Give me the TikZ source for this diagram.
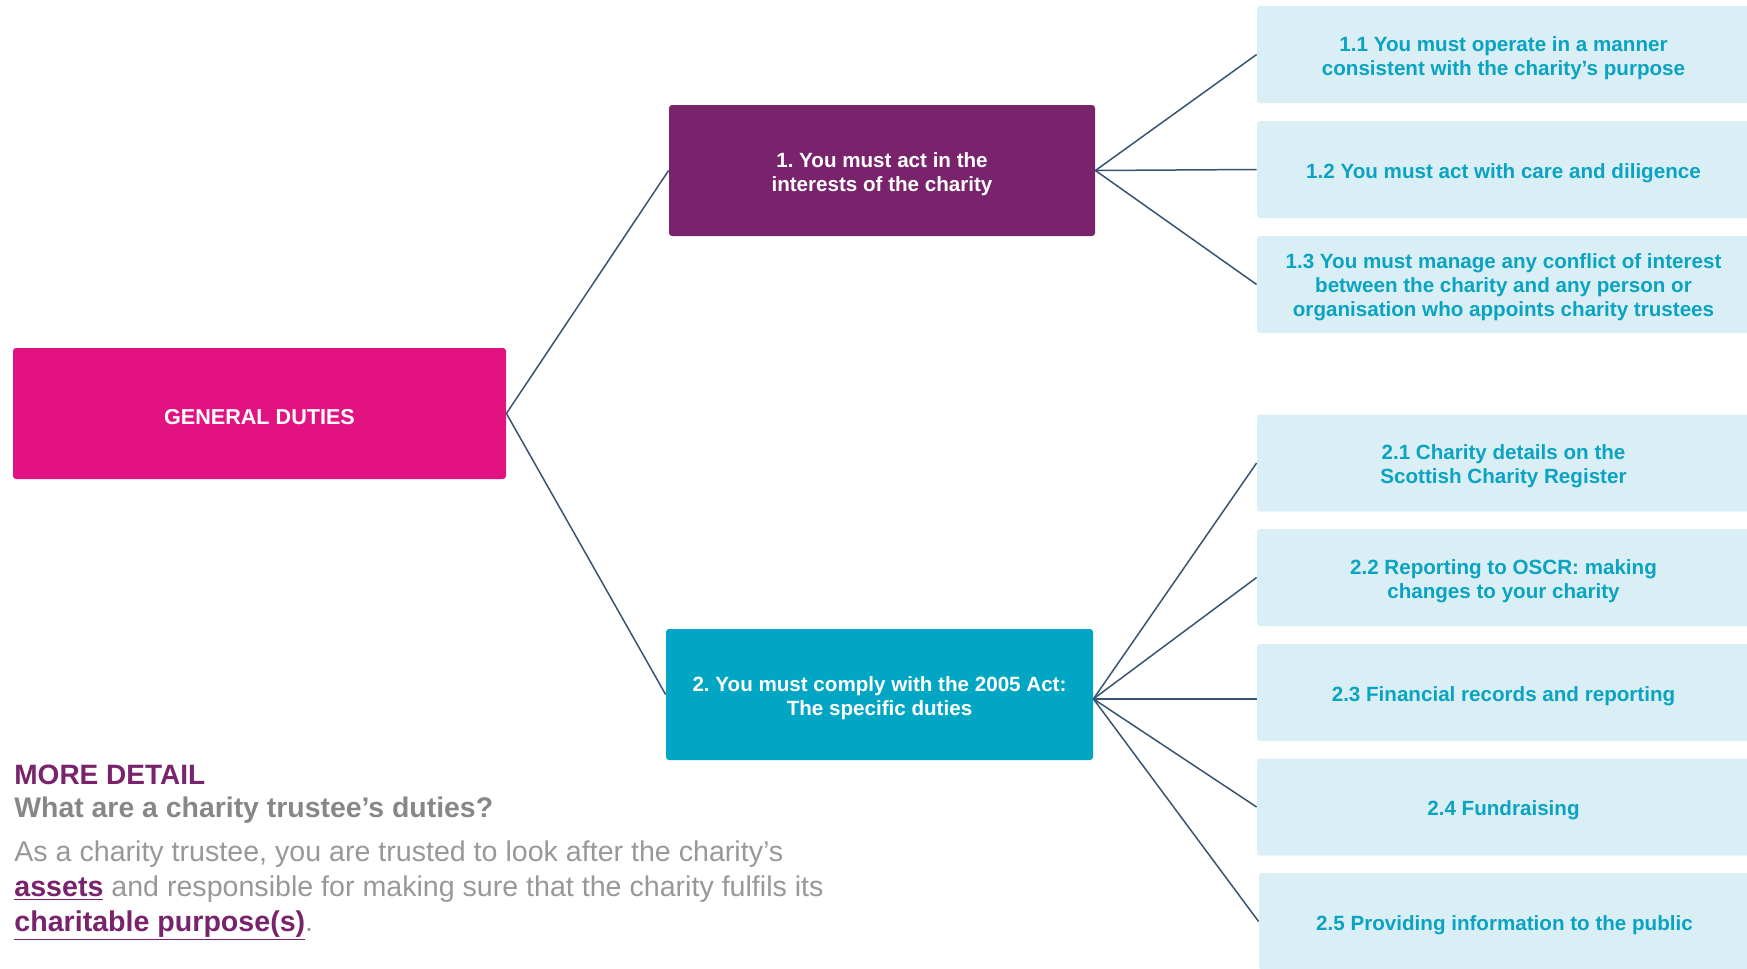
\documentclass[tikz,border=0pt]{standalone}
\usepackage{fontspec}
\setmainfont{Liberation Sans}
\usepackage{xcolor}
\usetikzlibrary{positioning}
\definecolor{pinkbox}{RGB}{226,18,128}
\definecolor{purplebox}{RGB}{120,35,107}
\definecolor{tealbox}{RGB}{0,166,196}
\definecolor{lightbox}{RGB}{218,238,245}
\definecolor{leaftext}{RGB}{10,163,194}
\definecolor{linkline}{RGB}{55,85,112}
\definecolor{headgrey}{RGB}{135,135,135}
\definecolor{bodygrey}{RGB}{152,152,152}

\tikzset{
  lowtext/.style={execute at begin node={\rule{0pt}{#1}}},
  lowtext/.default=10.9pt,
  mainbox/.style={rounded corners=1.5pt, inner sep=0pt, minimum width=213pt, minimum height=65.5pt,
    text=white, align=center, lowtext, font=\fontsize{10.3}{11.8}\selectfont\bfseries},
  leafbox/.style={fill=lightbox, rounded corners=1.5pt, inner sep=0pt, minimum width=246.5pt, minimum height=48.5pt,
    text=leaftext, align=center, lowtext, font=\fontsize{10.3}{12}\selectfont\bfseries},
  branch/.style={draw=linkline, line width=0.75pt},
}

\begin{document}
\frenchspacing
\begin{tikzpicture}[x=0.5pt, y=-0.5pt]
  \useasboundingbox (0,0) rectangle (1747,969);

  % main duties
  \node[mainbox, fill=pinkbox, minimum width=246.5pt, font=\fontsize{10.8}{12}\selectfont\bfseries] (gen) at (259.5,413.5) {GENERAL DUTIES};
  \node[mainbox, fill=purplebox, lowtext=22.8pt] (one) at (882,170.5) {1. You must act in the\\interests of the charity};
  \node[mainbox, fill=tealbox, minimum width=213.5pt, lowtext=23.2pt] (two) at (879.5,694.5) {2. You must comply with the 2005 Act:\\The specific duties};

  % duty 1
  \node[leafbox, lowtext=23.4pt] (b11) at (1503.5,54.5) {1.1 You must operate in a manner\\consistent with the charity’s purpose};
  \node[leafbox] (b12) at (1503.5,169.5) {1.2 You must act with care and diligence};
  \node[leafbox, lowtext=34.2pt] (b13) at (1503.5,284.5) {1.3 You must manage any conflict of interest\\between the charity and any person or\\organisation who appoints charity trustees};

  % duty 2
  \node[leafbox, lowtext=22.9pt] (b21) at (1503.5,463) {2.1 Charity details on the\\Scottish Charity Register};
  \node[leafbox, lowtext=22.9pt] (b22) at (1503.5,577.5) {2.2 Reporting to OSCR: making\\changes to your charity};
  \node[leafbox] (b23) at (1503.5,692.5) {2.3 Financial records and reporting};
  \node[leafbox] (b24) at (1503.5,807) {2.4 Fundraising};
  \node[leafbox, minimum width=245.5pt] (b25) at (1504.5,921.5) {2.5 Providing information to the public};

  \coordinate (hub) at ([yshift=-2.2pt]two.east);

  \draw[branch] (gen.east) -- (one.west);
  \draw[branch] (gen.east) -- (two.west);
  \foreach \leaf in {b11,b12,b13}
    \draw[branch] (one.east) -- (\leaf.west);
  \foreach \leaf in {b21,b22,b24,b25}
    \draw[branch] (hub) -- (\leaf.west);
  \draw[branch] (hub) -- (b23.west |- hub);

  % more detail
  \node[anchor=base west, inner sep=0pt, text=purplebox, font=\fontsize{14}{16}\selectfont\bfseries] (more) at (14,784) {MORE DETAIL};
  \node[anchor=base west, inner sep=0pt, text=headgrey, font=\fontsize{14.2}{16}\selectfont\bfseries] (question) at (14,817) {What are a charity trustee’s duties?};
  \node[anchor=base west, inner sep=0pt, text=bodygrey, align=left, font=\fontsize{14.3}{17.3}\selectfont] (answer) at (14,931)
    {As a charity trustee, you are trusted to look after the charity’s\\
     \textcolor{purplebox}{\textbf{\underline{assets}}} and responsible for making sure that the charity fulfils its\\
     \textcolor{purplebox}{\textbf{\underline{charitable purpose(s)}}}.};
\end{tikzpicture}
\end{document}
